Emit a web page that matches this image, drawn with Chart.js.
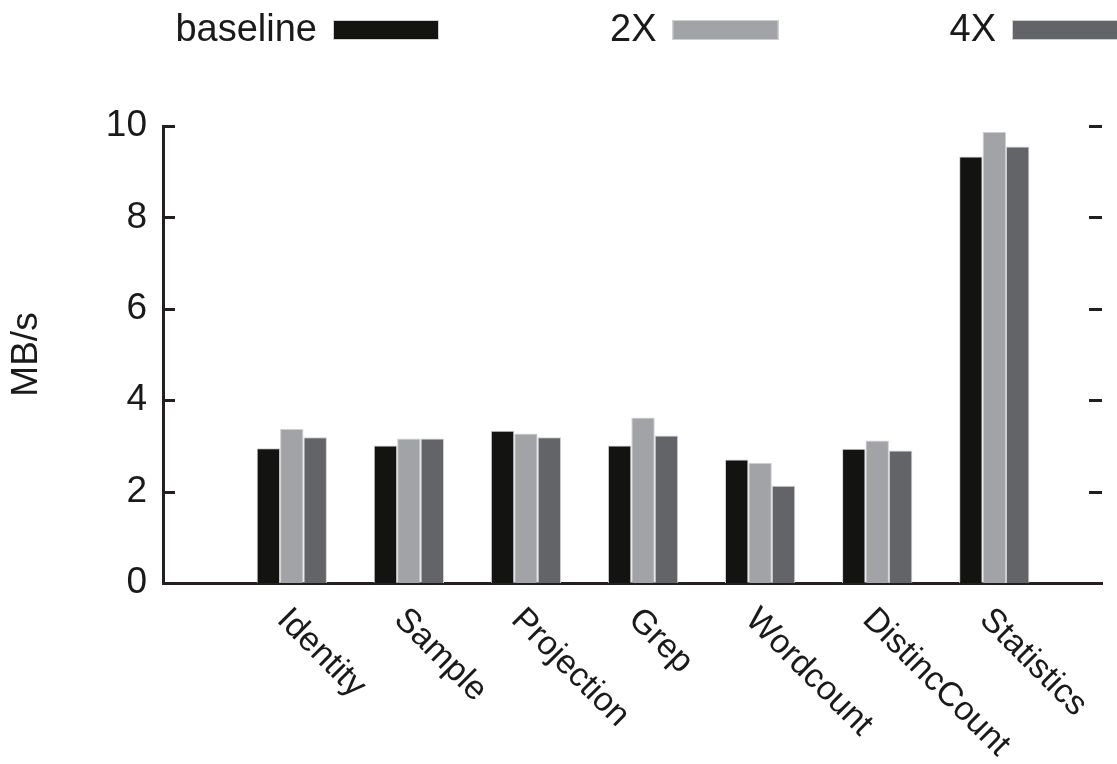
<!DOCTYPE html>
<html>
<head>
<meta charset="utf-8">
<title>MB/s</title>
<script src="https://cdn.jsdelivr.net/npm/chart.js@4/dist/chart.umd.min.js"></script>
<style>
  html, body { margin: 0; padding: 0; background: #ffffff; }
  #wrap { width: 1117px; height: 764px; position: relative; }
</style>
</head>
<body>
<div id="wrap"><canvas id="c" width="1117" height="764"></canvas></div>
<script>
// Throughput per workload
const categories = ['Identity', 'Sample', 'Projection', 'Grep', 'Wordcount', 'DistincCount', 'Statistics'];
const seriesNames = ['baseline', '2X', '4X'];
const baselineValues = [2.95, 3.01, 3.33, 3.01, 2.70, 2.94, 9.33];
const x2Values = [3.37, 3.16, 3.27, 3.62, 2.63, 3.12, 9.87];
const x4Values = [3.19, 3.16, 3.19, 3.23, 2.13, 2.90, 9.55];
const yTickValues = [0, 2, 4, 6, 8, 10];
const yAxisTitle = 'MB/s';

const FONT = '"Liberation Sans", Arial, Helvetica, sans-serif';
const INK = '#1b1a1a';
const AXIS = '#231f20';
const seriesColors = ['#131311', '#a2a3a7', '#636468'];

const seriesValues = [baselineValues, x2Values, x4Values];
const datasets = seriesNames.map((name, s) => ({
  label: name,
  data: categories.map((c, i) => ({ x: i, y: seriesValues[s][i] })),
  backgroundColor: seriesColors[s],
  borderColor: '#cfcfd1',
  borderWidth: 1,
  borderSkipped: 'bottom',
  barPercentage: 1.0,
  categoryPercentage: 0.6
}));

// Inward tick marks on both sides, slanted category labels and the top key
const decorPlugin = {
  id: 'decor',
  afterDraw(chart) {
    const ctx = chart.ctx;
    const area = chart.chartArea;
    const xs = chart.scales.x;
    const ys = chart.scales.y;
    ctx.save();

    // tick marks
    ctx.strokeStyle = AXIS;
    ctx.lineWidth = 3;
    yTickValues.forEach(v => {
      const py = Math.round(ys.getPixelForValue(v)) + 0.5;
      ctx.beginPath();
      ctx.moveTo(area.left, py);
      ctx.lineTo(area.left + 12, py);
      ctx.moveTo(area.right - 13, py);
      ctx.lineTo(area.right, py);
      ctx.stroke();
    });

    // category labels, rotated 45 degrees downward
    ctx.fillStyle = INK;
    ctx.font = '34px ' + FONT;
    ctx.textAlign = 'left';
    ctx.textBaseline = 'alphabetic';
    categories.forEach((name, i) => {
      const px = xs.getPixelForValue(i);
      ctx.save();
      ctx.translate(px - 16, area.bottom + 38);
      ctx.rotate(Math.PI / 4);
      ctx.fillText(name, 0, 0);
      ctx.restore();
    });

    // key: text to the left of each swatch
    ctx.font = '38px ' + FONT;
    ctx.textAlign = 'right';
    chart.data.datasets.forEach((ds, i) => {
      const sx = 333 + i * 339.5;
      ctx.fillStyle = INK;
      ctx.fillText(ds.label, sx - 16, 41);
      ctx.fillStyle = ds.backgroundColor;
      ctx.fillRect(sx, 20, 106, 20);
      ctx.strokeStyle = '#cfcfd1';
      ctx.lineWidth = 1;
      ctx.strokeRect(sx + 0.5, 20.5, 105, 19);
    });

    ctx.restore();
  }
};

new Chart(document.getElementById('c'), {
  type: 'bar',
  data: { datasets },
  options: {
    responsive: false,
    animation: false,
    devicePixelRatio: 1,
    layout: { padding: { top: 126, right: 15, bottom: 0, left: 0 } },
    plugins: {
      legend: { display: false },
      tooltip: { enabled: false }
    },
    scales: {
      x: {
        type: 'linear',
        offset: false,
        min: -1.1,
        max: 6.92,
        afterBuildTicks(scale) { scale.ticks = categories.map((c, i) => ({ value: i })); },
        grid: { display: false, drawTicks: false, offset: false },
        ticks: { display: false },
        border: { display: true, color: AXIS, width: 3 },
        afterFit(scale) { scale.height = 181; }
      },
      y: {
        min: 0,
        max: 10,
        afterBuildTicks(scale) { scale.ticks = yTickValues.map(v => ({ value: v })); },
        grid: { display: false, drawTicks: false },
        border: { display: true, color: AXIS, width: 3 },
        ticks: {
          color: INK,
          padding: 16,
          font: { family: FONT, size: 37 }
        },
        title: {
          display: true,
          text: yAxisTitle,
          color: INK,
          font: { family: FONT, size: 37 },
          padding: { top: 5, bottom: 0 }
        },
        afterFit(scale) { scale.width = 163; }
      }
    }
  },
  plugins: [decorPlugin]
});
</script>
</body>
</html>
